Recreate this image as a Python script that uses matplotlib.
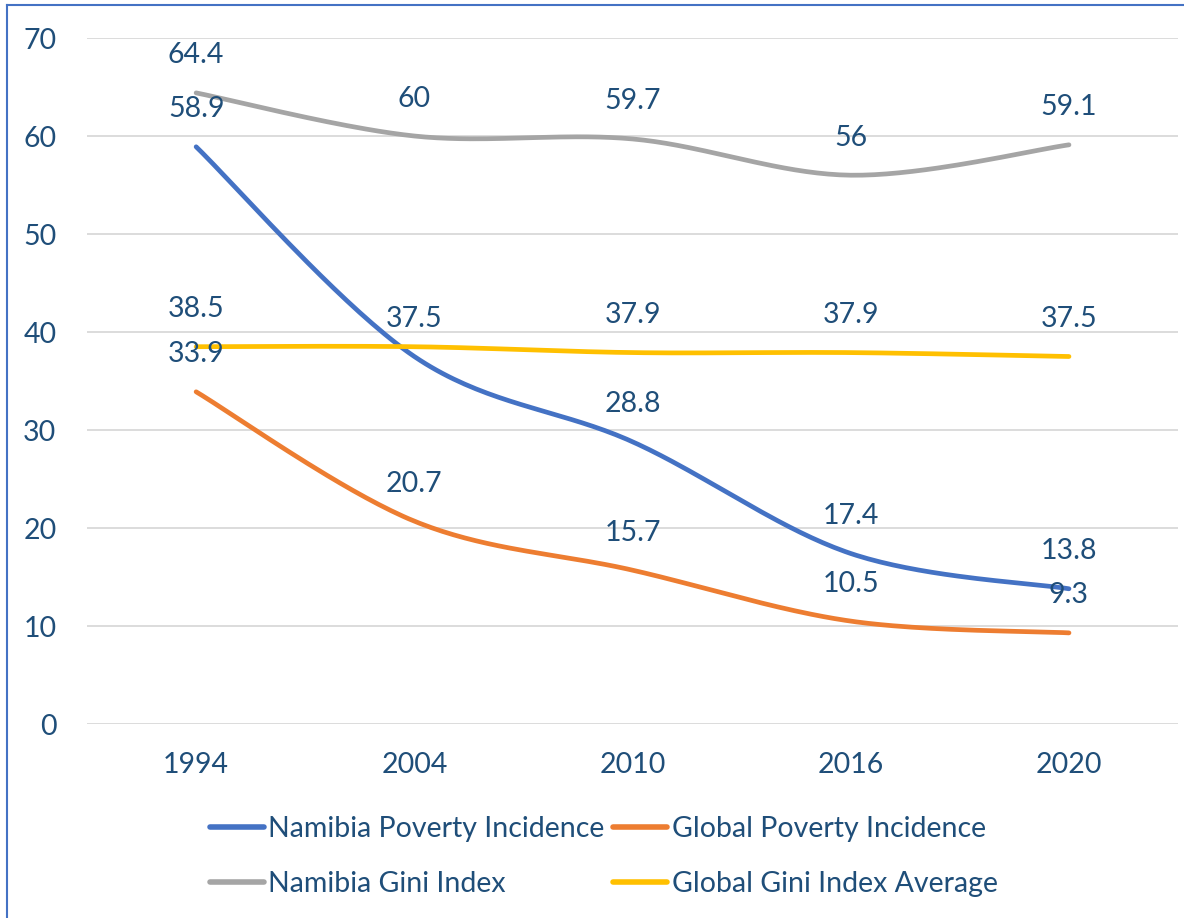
import matplotlib
matplotlib.use('Agg')
import matplotlib.pyplot as plt
from matplotlib.lines import Line2D
import numpy as np

# --- data ---
years = ['1994', '2004', '2010', '2016', '2020']
namibia_poverty = [58.9, 37.5, 28.8, 17.4, 13.8]
global_poverty = [33.9, 20.7, 15.7, 10.5, 9.3]
namibia_gini = [64.4, 60.0, 59.7, 56.0, 59.1]
global_gini = [38.5, 38.5, 37.9, 37.9, 37.5]
# label for global gini in 2004 is not shown in the original
global_gini_show = [True, False, True, True, True]

series = [
    ('Namibia Poverty Incidence', namibia_poverty, '#4472C4', [True] * 5),
    ('Global Poverty Incidence', global_poverty, '#ED7D31', [True] * 5),
    ('Namibia Gini Index', namibia_gini, '#A5A5A5', [True] * 5),
    ('Global Gini Index Average', global_gini, '#FFC000', global_gini_show),
]

TEXT = '#1F4E79'
FS = 20.5
plt.rcParams['font.family'] = ['Lato', 'DejaVu Sans']


def smooth(x, y, n=40):
    """Excel-like smoothed line (Catmull-Rom as cubic Bezier)."""
    p = np.column_stack([x, y]).astype(float)
    pts = np.vstack([p[0], p, p[-1]])
    t = np.linspace(0, 1, n)[:, None]
    out = []
    for i in range(1, len(pts) - 2):
        p0, p1, p2, p3 = pts[i - 1], pts[i], pts[i + 1], pts[i + 2]
        c1 = p1 + (p2 - p0) / 6
        c2 = p2 - (p3 - p1) / 6
        seg = ((1 - t) ** 3) * p1 + 3 * ((1 - t) ** 2) * t * c1 \
            + 3 * (1 - t) * t ** 2 * c2 + t ** 3 * p2
        out.append(seg if i == 1 else seg[1:])
    out = np.vstack(out)
    return out[:, 0], out[:, 1]


fig = plt.figure(figsize=(11.84, 9.18), dpi=100)
ax = fig.add_axes([0.0735, 0.2113, 0.9215, 0.7473])

x = np.arange(len(years))
handles = {}
for name, vals, color, show in series:
    sx, sy = smooth(x, vals)
    h, = ax.plot(sx, sy, color=color, lw=3.4, solid_capstyle='round', label=name)
    handles[name] = h
    for xi, v, s in zip(x, vals, show):
        if s:
            ax.annotate(f'{v:g}', (xi, v), xytext=(0, 27), textcoords='offset points',
                        ha='center', va='center', fontsize=FS, color=TEXT)

ax.set_xlim(-0.5, len(years) - 0.5)
ax.set_ylim(0, 70)
ax.set_yticks(range(0, 71, 10))
ax.set_xticks(x)
ax.set_xticklabels(years)
ax.tick_params(length=0, labelsize=FS, labelcolor=TEXT)
ax.tick_params(axis='y', pad=22)
ax.tick_params(axis='x', pad=20)
ax.grid(axis='y', color='#D9D9D9', lw=1.3)
ax.set_axisbelow(True)
for s in ax.spines.values():
    s.set_visible(False)

order = ['Namibia Poverty Incidence', 'Namibia Gini Index',
         'Global Poverty Incidence', 'Global Gini Index Average']
leg = fig.legend([handles[k] for k in order], order, loc='center', ncol=2,
                 bbox_to_anchor=(0.51, 0.067), frameon=False, fontsize=FS,
                 labelcolor=TEXT, handlelength=1.9, handletextpad=0.15,
                 columnspacing=0.3, labelspacing=1.05)
for lh in leg.legend_handles:
    lh.set_linewidth(4)

# chart area border (only left and top edges visible)
fig.add_artist(Line2D([0.006, 0.006], [0, 0.9945], transform=fig.transFigure,
                      color='#4472C4', lw=1.5))
fig.add_artist(Line2D([0.006, 1], [0.9945, 0.9945], transform=fig.transFigure,
                      color='#4472C4', lw=1.5))

fig.savefig('out.png', dpi=100)
